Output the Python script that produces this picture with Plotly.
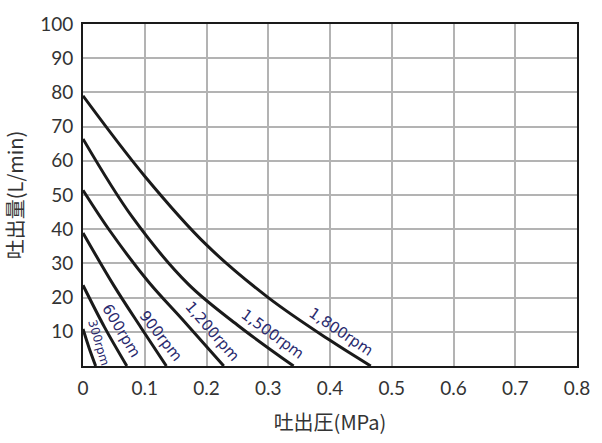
import plotly.graph_objects as go

# Data
p_300 = [0.0, 0.010, 0.0205]
q_300 = [10.8, 5.2, 0.0]

p_600 = [0.0, 0.035, 0.071]
q_600 = [23.6, 11.3, 0.0]

p_900 = [0.0, 0.05, 0.094, 0.135]
q_900 = [38.9, 23.5, 11.2, 0.0]

p_1200 = [0.0, 0.044, 0.107, 0.16, 0.228]
q_1200 = [51.4, 39.4, 24.4, 13.8, 0.0]

p_1500 = [0.0, 0.08, 0.17, 0.25, 0.341]
q_1500 = [66.4, 43.5, 24.0, 12.0, 0.0]

p_1800 = [0.0, 0.1, 0.2, 0.3, 0.4, 0.466]
q_1800 = [79.0, 55.5, 35.4, 20.0, 7.5, 0.0]

labels = ["300rpm", "600rpm", "900rpm", "1,200rpm", "1,500rpm", "1,800rpm"]
label_x = [0.0245, 0.0625, 0.1258, 0.209, 0.3066, 0.4178]
label_y = [6.9, 10.3, 8.7, 10.3, 9.4, 9.8]
label_angle = [73, 59, 52, 49, 36, 34]
label_size = [12, 15, 15, 15, 15, 15]

x_ticks = [0, 0.1, 0.2, 0.3, 0.4, 0.5, 0.6, 0.7, 0.8]
x_tick_text = ["0", "0.1", "0.2", "0.3", "0.4", "0.5", "0.6", "0.7", "0.8"]
y_ticks = [10, 20, 30, 40, 50, 60, 70, 80, 90, 100]

series = [(p_300, q_300), (p_600, q_600), (p_900, q_900),
          (p_1200, q_1200), (p_1500, q_1500), (p_1800, q_1800)]

fig = go.Figure()
for px, qy in series:
    fig.add_trace(go.Scatter(x=px, y=qy, mode="lines",
                             line=dict(color="#1a1a1a", width=3, shape="spline", smoothing=1.0),
                             showlegend=False, hoverinfo="skip", cliponaxis=True))

for t, lx, ly, ang, sz in zip(labels, label_x, label_y, label_angle, label_size):
    fig.add_annotation(x=lx, y=ly, text=t, showarrow=False, textangle=ang,
                       font=dict(family="DejaVu Sans", size=sz, color="#2a2a6e"))

fig.update_layout(
    width=602, height=443,
    margin=dict(l=80, r=13, t=13, b=71),
    paper_bgcolor="white", plot_bgcolor="white",
    font=dict(family="Lato", color="#333333"),
)
fig.update_xaxes(range=[0, 0.8], tickvals=x_ticks, ticktext=x_tick_text,
                 showgrid=True, gridcolor="#b3b3b3", gridwidth=1.5,
                 showline=True, linecolor="#1a1a1a", linewidth=2, mirror=True,
                 zeroline=False, ticks="", ticklabelstandoff=4,
                 tickfont=dict(family="Lato", size=19, color="#333333"),
                 title=dict(text="吐出圧(MPa)", font=dict(family="Noto Sans CJK JP", size=20, color="#333333"),
                            standoff=18))
fig.update_yaxes(range=[0, 100], tickvals=y_ticks,
                 showgrid=True, gridcolor="#b3b3b3", gridwidth=1.5,
                 showline=True, linecolor="#1a1a1a", linewidth=2, mirror=True,
                 zeroline=False, ticks="", ticklabelstandoff=4,
                 tickfont=dict(family="Lato", size=19, color="#333333"),
                 title=dict(text="吐出量(L/min)", font=dict(family="Noto Sans CJK JP", size=20, color="#333333"),
                            standoff=14))

fig.write_html("out.html")
